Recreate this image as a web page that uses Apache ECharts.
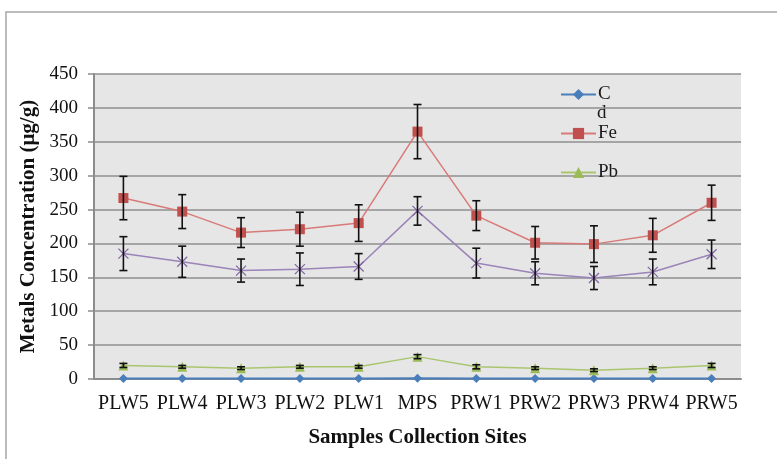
<!DOCTYPE html>
<html>
<head>
<meta charset="utf-8">
<script src="https://cdn.jsdelivr.net/npm/echarts@6/dist/echarts.min.js"></script>
<style>html,body{margin:0;padding:0;background:#fff;}#c{width:777px;height:459px;}</style>
</head>
<body>
<div id="c"></div>
<script>
var categories = ['PLW5','PLW4','PLW3','PLW2','PLW1','MPS','PRW1','PRW2','PRW3','PRW4','PRW5'];
var cdValues = [0.8,0.8,0.8,0.8,0.8,1.0,0.8,0.8,0.8,0.8,0.8];
var feValues = [267,247,216,221,230,365,241,201,199,212,260];
var feErr    = [32,25,22,25,27,40,22,24,27,25,26];
var znValues = [185,173,160,162,166,248,171,156,149,158,184];
var znErr    = [25,23,17,24,19,21,22,17,17,19,21];
var pbValues = [20,18,16,18,18,33,18,16,13,16,20];
var pbErr    = [3,2,2,2,2,3,3,2,2,2,3];
var yTicks = [0,50,100,150,200,250,300,350,400,450];

function errData(vals, errs){
  return vals.map(function(v,i){ return [i, v - errs[i], v + errs[i]]; });
}
function errSeries(vals, errs){
  return {
    type: 'custom',
    z: 5,
    silent: true,
    data: errData(vals, errs),
    renderItem: function(params, api){
      var x = api.value(0);
      var lo = api.coord([x, api.value(1)]);
      var hi = api.coord([x, api.value(2)]);
      var w = 4;
      var st = {stroke:'#111', lineWidth:1.6};
      return {type:'group', children:[
        {type:'line', shape:{x1:lo[0], y1:lo[1], x2:hi[0], y2:hi[1]}, style:st},
        {type:'line', shape:{x1:lo[0]-w, y1:lo[1], x2:lo[0]+w, y2:lo[1]}, style:st},
        {type:'line', shape:{x1:hi[0]-w, y1:hi[1], x2:hi[0]+w, y2:hi[1]}, style:st}
      ]};
    }
  };
}
var serif = 'Liberation Serif';
var chart = echarts.init(document.getElementById('c'));
chart.setOption({
  animation: false,
  backgroundColor: '#ffffff',
  grid: {left: 94, right: 36, top: 74, bottom: 80, show: true, backgroundColor: '#e6e6e6', borderWidth: 0},
  graphic: [
    {type:'rect', shape:{x:6, y:12, width:820, height:520}, style:{fill:'none', stroke:'#a6a6a6', lineWidth:1.5}, z:-10},
    {type:'text', left: 597, top: 104, style:{text:'d', font:'19px "Liberation Serif"', fill:'#1a1a1a'}}
  ],
  legend: {
    orient: 'vertical',
    left: 555, top: 80,
    itemWidth: 35, itemHeight: 14,
    itemGap: 20,
    data: ['Cd','Fe','Pb'],
    formatter: function(n){ return n === 'Cd' ? 'C' : n; },
    textStyle: {fontFamily: serif, fontSize: 19, lineHeight: 19, color: '#1a1a1a', padding:[0,0,0,-3]}
  },
  xAxis: {
    type: 'category',
    data: categories,
    boundaryGap: true,
    name: 'Samples Collection Sites',
    nameLocation: 'middle',
    nameGap: 48,
    nameTextStyle: {fontFamily: serif, fontSize: 21, fontWeight: 'bold', color: '#111'},
    axisLine: {lineStyle: {color: '#8c8c8c', width: 2}},
    axisTick: {show: false},
    axisLabel: {fontFamily: serif, fontSize: 20, color: '#111', margin: 15, interval: 0}
  },
  yAxis: {
    type: 'value',
    min: 0, max: 450, interval: 50,
    name: 'Metals Concentration (μg/g)',
    nameLocation: 'middle',
    nameGap: 54,
    nameTextStyle: {fontFamily: serif, fontSize: 21, fontWeight: 'bold', color: '#111'},
    axisLine: {show: true, lineStyle: {color: '#8c8c8c', width: 2}},
    axisTick: {show: true, length: 6, lineStyle: {color: '#8c8c8c', width: 1.5}},
    axisLabel: {fontFamily: serif, fontSize: 19, color: '#111', margin: 16,
      formatter: function(v){ return yTicks.indexOf(v) >= 0 ? String(v) : ''; }},
    splitLine: {lineStyle: {color: '#8f8f8f', width: 1.5}}
  },
  series: [
    {name:'Cd', type:'line', data: cdValues, symbol:'diamond', symbolSize: 9,
      itemStyle:{color:'#4a7ebb'}, lineStyle:{color:'#4a7ebb', width: 2}, z: 3},
    {name:'Fe', type:'line', data: feValues, symbol:'rect', symbolSize: 10,
      itemStyle:{color:'#c0504d'}, lineStyle:{color:'#d87a78', width: 1.5}, z: 3},
    {name:'Pb', type:'line', data: pbValues, symbol:'triangle', symbolSize: 10,
      itemStyle:{color:'#9bbb59'}, lineStyle:{color:'#a9c66f', width: 1.5}, z: 3},
    {name:'Zn', type:'line', data: znValues, symbol:'path://M0,0L10,10M10,0L0,10', symbolSize: 10,
      itemStyle:{color:'rgba(0,0,0,0)', borderColor:'#8064a2', borderWidth: 1.2},
      lineStyle:{color:'#9a84b8', width: 1.5}, z: 3},
    errSeries(feValues, feErr),
    errSeries(znValues, znErr),
    errSeries(pbValues, pbErr)
  ]
});
</script>
</body>
</html>
